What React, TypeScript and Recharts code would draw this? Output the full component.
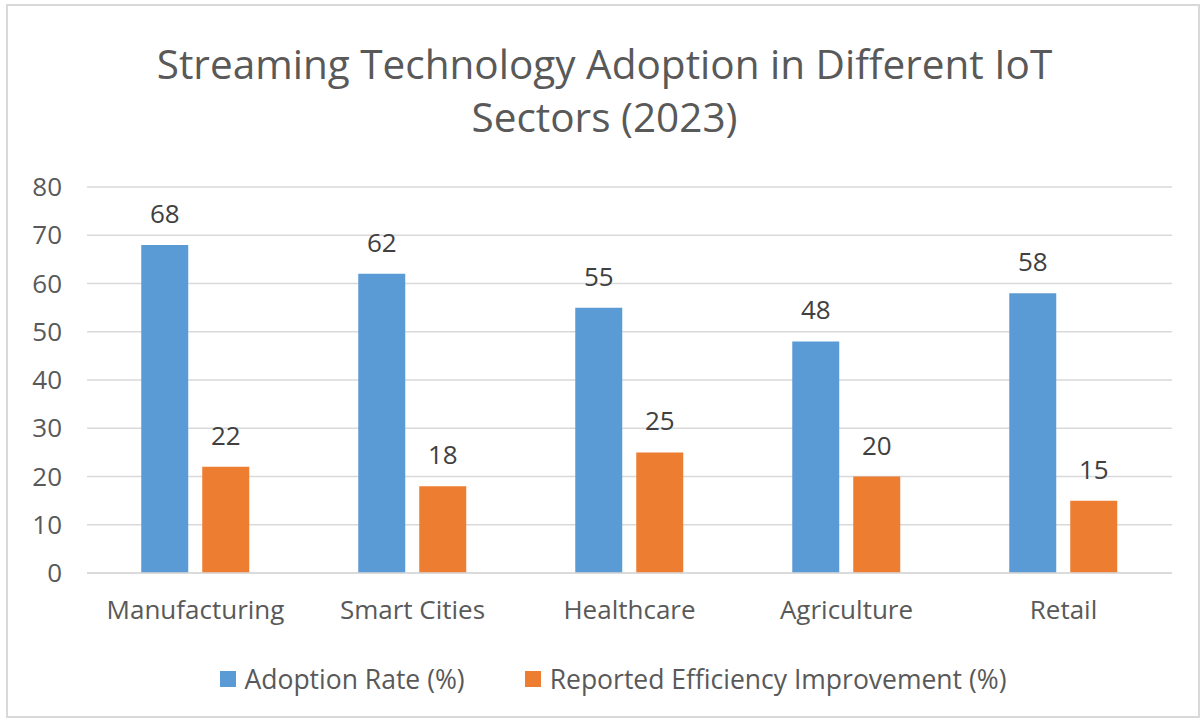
import { Bar, BarChart, CartesianGrid, LabelList, Legend, XAxis, YAxis } from "recharts"

const sectors = ["Manufacturing", "Smart Cities", "Healthcare", "Agriculture", "Retail"]
const adoptionRate = [68, 62, 55, 48, 58]
const efficiencyGain = [22, 18, 25, 20, 15]
const yTicks = [0, 10, 20, 30, 40, 50, 60, 70, 80]

const seriesNames = ["Adoption Rate (%)", "Reported Efficiency Improvement (%)"]
const seriesColors = ["#5b9bd5", "#ed7d31"]

const data = sectors.map((sector, i) => ({
  sector,
  adoption: adoptionRate[i],
  efficiency: efficiencyGain[i],
}))

const font = "'Open Sans', 'Noto Sans', sans-serif"
const textColor = "#595959"

function LegendRow() {
  return (
    <div style={{ display: "flex", justifyContent: "center", alignItems: "center", gap: 60, paddingLeft: 54, fontFamily: font, fontSize: 26.5, color: textColor }}>
      {seriesNames.map((name, i) => (
        <div key={name} style={{ display: "flex", alignItems: "center" }}>
          <span style={{ display: "inline-block", width: 16, height: 16, background: seriesColors[i], marginRight: 9 }} />
          <span>{name}</span>
        </div>
      ))}
    </div>
  )
}

export default function App() {
  return (
    <div style={{ position: "absolute", left: 0, top: 0, width: 1203, height: 721, background: "#fff", overflow: "hidden" }}>
      <div style={{ position: "absolute", left: 6, top: 4, width: 1190, height: 710, border: "2px solid #d9d9d9" }} />
      <div
        style={{
          position: "absolute",
          top: 37,
          left: 6,
          width: 1197,
          textAlign: "center",
          fontFamily: font,
          fontSize: 40.5,
          lineHeight: "53px",
          color: textColor,
        }}
      >
        Streaming Technology Adoption in Different IoT
        <br />
        Sectors (2023)
      </div>
      <BarChart
        width={1203}
        height={721}
        data={data}
        margin={{ top: 187, right: 31, left: 0, bottom: 20 }}
        barCategoryGap="25%"
        barGap={14}
        style={{ position: "absolute", left: 0, top: 0 }}
      >
        <CartesianGrid vertical={false} stroke="#d9d9d9" strokeWidth={1.5} />
        <XAxis
          dataKey="sector"
          height={88}
          axisLine={{ stroke: "#d9d9d9", strokeWidth: 1.5 }}
          tickLine={false}
          tickMargin={22}
          tick={{ fill: textColor, fontSize: 26, fontFamily: font }}
        />
        <YAxis
          width={87}
          domain={[0, 80]}
          ticks={yTicks}
          axisLine={false}
          tickLine={false}
          tickMargin={19}
          tick={{ fill: textColor, fontSize: 26, fontFamily: font }}
        />
        <Legend verticalAlign="bottom" height={40} content={() => <LegendRow />} />
        <Bar dataKey="adoption" name={seriesNames[0]} fill={seriesColors[0]} isAnimationActive={false}>
          <LabelList dataKey="adoption" position="top" offset={22} fill="#404040" fontSize={26} fontFamily={font} />
        </Bar>
        <Bar dataKey="efficiency" name={seriesNames[1]} fill={seriesColors[1]} isAnimationActive={false}>
          <LabelList dataKey="efficiency" position="top" offset={22} fill="#404040" fontSize={26} fontFamily={font} />
        </Bar>
      </BarChart>
    </div>
  )
}
